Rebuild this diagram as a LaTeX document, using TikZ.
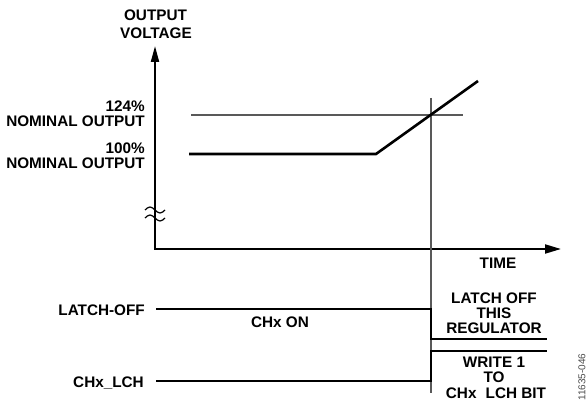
\documentclass[tikz,border=0pt]{standalone}
\usepackage{fontspec}
\setmainfont{Liberation Sans}
\usetikzlibrary{arrows.meta}
\begin{document}
\begin{tikzpicture}[x=1pt,y=-1pt,
  lbl/.style={font=\fontsize{15.3}{16}\selectfont\bfseries, inner sep=0pt},
  axisline/.style={line width=2pt, line cap=butt},
  sig/.style={line width=2.6pt, line join=miter},
  guide/.style={line width=1.3pt, draw=black!65},
  wave/.style={line width=1.2pt}
]
\useasboundingbox[fill=white] (0,0) rectangle (588,401);

% axes
\coordinate (ytop) at (155,46);
\coordinate (org) at (155,249);
\coordinate (xend) at (561,249);
\draw[axisline,{Triangle[length=16pt,width=8pt]}-{Triangle[length=16pt,width=9pt]}] (ytop) -- (org) -- (xend);

% break mark
\draw[wave] (145,210) sin (150,207) cos (155,210) sin (160,213) cos (165,210);
\draw[wave] (145,218) sin (150,215) cos (155,218) sin (160,221) cos (165,218);

% guide lines
\coordinate (g1) at (191,115);
\coordinate (g2) at (463,115);
\coordinate (v1) at (431,98);
\coordinate (v2) at (431,393);
\draw[guide] (g1) -- (g2);
\draw[guide] (v1) -- (v2);

% output voltage curve
\coordinate (c1) at (189,154);
\coordinate (c2) at (376,154);
\coordinate (c3) at (478,81);
\draw[sig] (c1) -- (c2) -- (c3);

% signals
\coordinate (l1) at (156,309);
\coordinate (l2) at (431,309);
\coordinate (l3) at (431,339);
\coordinate (l4) at (547,339);
\draw[sig] (l1) -- (l2) -- (l3) -- (l4);
\coordinate (h1) at (156,381);
\coordinate (h2) at (431,381);
\coordinate (h3) at (431,351);
\coordinate (h4) at (547,351);
\draw[sig] (h1) -- (h2) -- (h3) -- (h4);

% labels
\node[lbl, anchor=base] (ov1) at (155.5,21) {OUTPUT};
\node[lbl, anchor=base] (ov2) at (156,39) {VOLTAGE};
\node[lbl, anchor=base east] (p124) at (145,111) {124\%};
\node[lbl, anchor=base east] (n124) at (145,126) {NOMINAL OUTPUT};
\node[lbl, anchor=base east] (p100) at (145,153) {100\%};
\node[lbl, anchor=base east] (n100) at (145,168) {NOMINAL OUTPUT};
\node[lbl, anchor=base] (time) at (498,268) {TIME};
\node[lbl, anchor=base east] (latch) at (145,315) {LATCH-OFF};
\node[lbl, anchor=base] (chon) at (280,327) {CHx ON};
\node[lbl, anchor=base east] (lch) at (144,387) {CHx\_LCH};
\node[lbl, anchor=base] (r1) at (494,303) {LATCH OFF};
\node[lbl, anchor=base] (r2) at (494,318) {THIS};
\node[lbl, anchor=base] (r3) at (494,333) {REGULATOR};
\node[lbl, anchor=base] (w1) at (494,367) {WRITE 1};
\node[lbl, anchor=base] (w2) at (494,382) {TO};
\node[lbl, anchor=base] (w3) at (496,398) {CHx\hspace{0.6em}LCH BIT};
\node[font=\fontsize{10}{10}\selectfont, rotate=90, text=black!70, inner sep=0pt] (fig) at (582,377) {11635-046};
\end{tikzpicture}
\end{document}
